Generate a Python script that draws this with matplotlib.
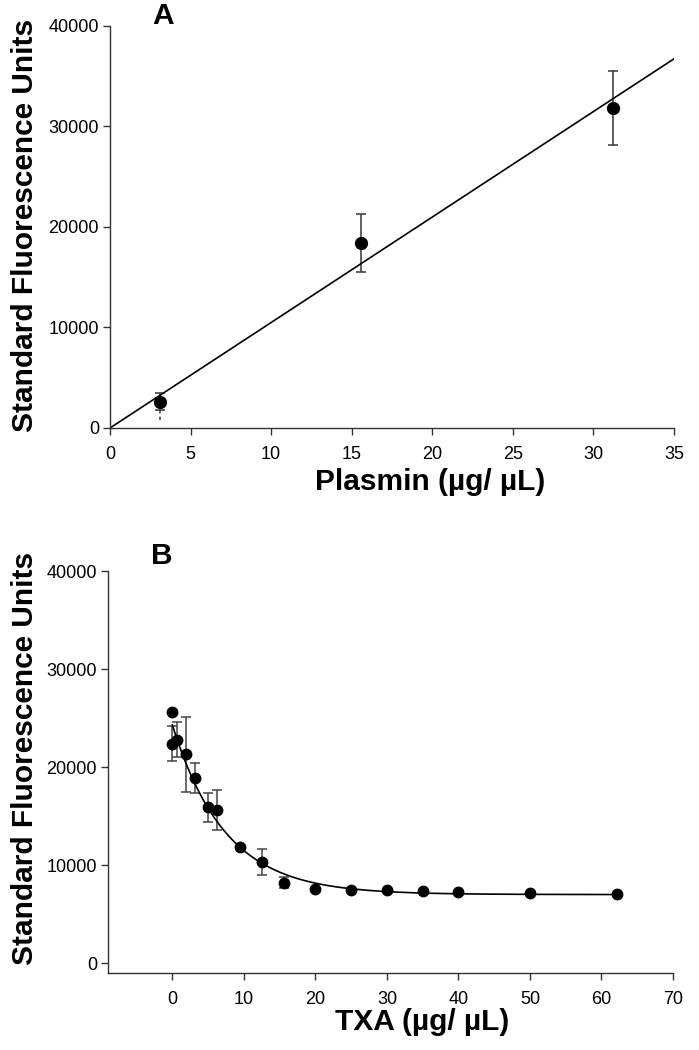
import numpy as np
import matplotlib
matplotlib.use("Agg")
import matplotlib.pyplot as plt

plt.rcParams['font.family'] = ['Liberation Sans', 'DejaVu Sans']

# Panel A: plasmin standard curve
plasmin = [3.1, 15.6, 31.2]
plasmin_sfu = [2600, 18400, 31800]
plasmin_err_lo = [800, 2900, 3600]
plasmin_err_hi = [900, 2900, 3700]

# Panel B: TXA inhibition
txa = [0, 0, 0.6, 1.9, 3.1, 5.0, 6.2, 9.4, 12.5, 15.6, 20, 25, 30, 35, 40, 50, 62.2]
txa_sfu = [25600, 22400, 22800, 21300, 18900, 15900, 15600, 11900, 10300, 8200,
           7600, 7500, 7450, 7400, 7300, 7200, 7100]
txa_err = [0, 1800, 1800, 3800, 1500, 1450, 2050, 0, 1300, 550,
           0, 0, 0, 0, 0, 0, 0]

# exponential decay fit: y = base + amp * exp(-k x)
fit_base, fit_amp, fit_k = 7000, 17300, 0.135

W, H = 699, 1050
fig = plt.figure(figsize=(W / 100, H / 100), dpi=100)

label_font = dict(fontsize=21.5, fontweight='bold')
ecol = '#444444'


def style(ax):
    for s in ['top', 'right']:
        ax.spines[s].set_visible(False)
    for s in ['left', 'bottom']:
        ax.spines[s].set_color('#333333')
        ax.spines[s].set_linewidth(1.0)
    ax.tick_params(direction='out', length=5, width=1, color='#333333', labelsize=13)
    ax.tick_params(axis='x', pad=8)
    ax.tick_params(axis='y', pad=3)


# ---- A ----
axA = fig.add_axes([110 / W, 1 - 428 / H, 564 / W, 402 / H])
axA.errorbar(plasmin[1:], plasmin_sfu[1:], yerr=[plasmin_err_lo[1:], plasmin_err_hi[1:]],
             fmt='o', color='black', ms=8.5, ecolor=ecol, elinewidth=1.2, capsize=3.5, capthick=1.2)
# lowest point: solid upper bar, dotted lower bar
axA.errorbar(plasmin[:1], plasmin_sfu[:1], yerr=[[plasmin_err_lo[0]], [plasmin_err_hi[0]]],
             fmt='o', color='black', ms=8.5, ecolor=ecol, elinewidth=1.2, capsize=3.5, capthick=1.2)
axA.plot([plasmin[0], plasmin[0]], [plasmin_sfu[0] - plasmin_err_lo[0], 500],
         ls=(0, (2, 2)), color=ecol, lw=1.2)

# least squares line through origin
px = np.array(plasmin)
slope = np.sum(px * np.array(plasmin_sfu)) / np.sum(px ** 2)
xl = np.array([0, 35])
axA.plot(xl, slope * xl, color='black', lw=1.2)

axA.set_xlim(0, 35)
axA.set_ylim(0, 40000)
axA.set_xticks(range(0, 36, 5))
axA.set_yticks(range(0, 40001, 10000))
style(axA)

fig.text(163 / W, 1 - 16 / H, 'A', ha='center', va='center', **label_font)
fig.text(25 / W, 1 - 225 / H, 'Standard Fluorescence Units', rotation=90,
         ha='center', va='center', **label_font)
fig.text(430 / W, 1 - 482 / H, 'Plasmin (µg/ µL)', ha='center', va='center', **label_font)

# ---- B ----
axB = fig.add_axes([108 / W, 1 - 973 / H, 565 / W, 402 / H])
yerr_b = np.array(txa_err, dtype=float)
axB.errorbar(txa, txa_sfu, yerr=np.where(yerr_b > 0, yerr_b, np.nan), fmt='o', color='black',
             ms=7.5, ecolor=ecol, elinewidth=1.1, capsize=3.5, capthick=1.1)
xc = np.linspace(0, max(txa), 300)
axB.plot(xc, fit_base + fit_amp * np.exp(-fit_k * xc), color='black', lw=1.2)

axB.set_xlim(-9, 70)
axB.set_ylim(-1000, 40000)
axB.set_xticks(range(0, 71, 10))
axB.set_yticks(range(0, 40001, 10000))
style(axB)

fig.text(162 / W, 1 - 556 / H, 'B', ha='center', va='center', **label_font)
fig.text(25 / W, 1 - 758 / H, 'Standard Fluorescence Units', rotation=90,
         ha='center', va='center', **label_font)
fig.text(422 / W, 1 - 1022 / H, 'TXA (µg/ µL)', ha='center', va='center', **label_font)

fig.savefig('out.png', dpi=100)
